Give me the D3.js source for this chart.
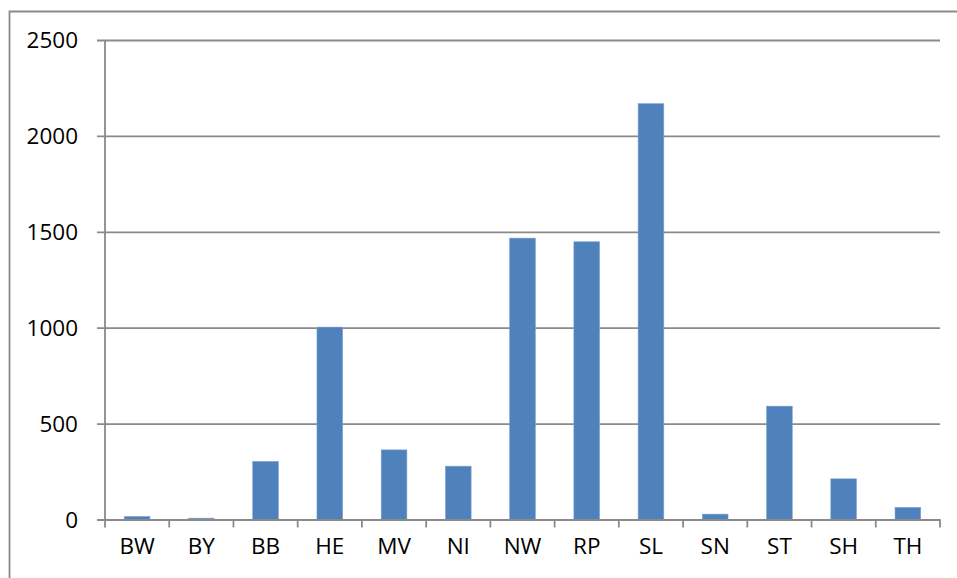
<!DOCTYPE html>
<html><head><meta charset="utf-8">
<script src="https://cdn.jsdelivr.net/npm/d3@7"></script>
<style>html,body{margin:0;padding:0;background:#fff;}svg{display:block;}</style>
</head><body>
<svg id="chart" width="957" height="578"></svg>
<script>
const categories = ["BW","BY","BB","HE","MV","NI","NW","RP","SL","SN","ST","SH","TH"];
const values = [16, 7, 303, 1003, 363, 278, 1467, 1448, 2168, 28, 591, 212, 63];
const yTicks = [0, 500, 1000, 1500, 2000, 2500];

const svg = d3.select("#chart");
const margin = {left: 105, right: 957 - 940, top: 40, bottom: 578 - 519.5};
const W = 957, H = 578;
const font = "'Open Sans', 'Noto Sans', sans-serif";
const gridColor = "#8a8a8a";

// outer frame (left and top visible)
svg.append("path")
  .attr("d", `M9.5,578 L9.5,11.5 L957,11.5`)
  .attr("fill", "none").attr("stroke", gridColor).attr("stroke-width", 1.8);

const x = d3.scaleBand().domain(categories)
  .range([margin.left, W - margin.right]).paddingInner(0.6).paddingOuter(0.3);
const y = d3.scaleLinear().domain([0, 2500]).range([H - margin.bottom, margin.top]);

// gridlines + y ticks
const yAxis = d3.axisLeft(y).tickValues(yTicks).tickSize(-(W - margin.right - margin.left)).tickSizeOuter(0).tickPadding(0).tickFormat(d3.format("d"));
const gy = svg.append("g").attr("transform", `translate(${margin.left},0)`).call(yAxis);
gy.select(".domain").remove();
gy.selectAll(".tick line").attr("stroke", gridColor).attr("stroke-width", 1.8).attr("x1", -8);
gy.selectAll(".tick text").attr("x", -27).attr("dy", "0.35em")
  .attr("font-family", font).attr("font-size", 22.5).attr("fill", "#000");

// y axis line
svg.append("line").attr("x1", margin.left).attr("x2", margin.left)
  .attr("y1", y(2500)).attr("y2", y(0))
  .attr("stroke", gridColor).attr("stroke-width", 1.8);

// bars
svg.append("g").selectAll("rect").data(categories).join("rect")
  .attr("x", (d) => x(d))
  .attr("width", x.bandwidth())
  .attr("y", (d, i) => y(values[i]))
  .attr("height", (d, i) => y(0) - y(values[i]))
  .attr("fill", "#4f81bd")
  .attr("stroke", "#7ea2cf").attr("stroke-width", 0.6);

// x axis
const gx = svg.append("g").attr("transform", `translate(0,${y(0)})`)
  .call(d3.axisBottom(x).tickSize(0).tickPadding(0));
gx.select(".domain").attr("stroke", gridColor).attr("stroke-width", 1.8);
gx.selectAll(".tick text").attr("y", 34).attr("dy", 0)
  .attr("font-family", font).attr("font-size", 22.5).attr("fill", "#000");
// category boundary tick marks
const bounds = d3.range(categories.length + 1).map(i => margin.left + i * (W - margin.right - margin.left) / categories.length);
gx.selectAll("line.bt").data(bounds).join("line").attr("class", "bt")
  .attr("x1", d => d).attr("x2", d => d).attr("y1", 0).attr("y2", 8)
  .attr("stroke", gridColor).attr("stroke-width", 1.8);
</script>
</body></html>
